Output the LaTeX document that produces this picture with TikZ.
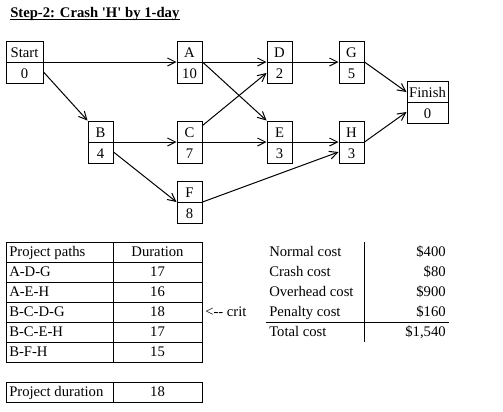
\documentclass[tikz,border=0pt]{standalone}
\usepackage{fontspec}
\setmainfont{Liberation Serif}
\usetikzlibrary{arrows.meta,calc,shapes.multipart}

% strut giving each box part its height
\newcommand{\cst}{\rule[-3pt]{0pt}{15pt}}

\tikzset{
  act/.style={draw, line width=0.75pt, rectangle split, rectangle split parts=2,
    minimum width=18.75pt, inner xsep=1pt, inner ysep=0pt},
  link/.style={line width=0.75pt, -{Straight Barb[length=6pt,width=6pt]}},
  tline/.style={line width=0.75pt},
  txt/.style={inner sep=0pt, anchor=base west},
  num/.style={inner sep=0pt, anchor=base},
  val/.style={inner sep=0pt, anchor=base east},
}

\begin{document}
\fontsize{11}{13}\selectfont
\begin{tikzpicture}[x=0.75pt, y=-0.75pt]
    \useasboundingbox (0,0) rectangle (503,411);

    % Title
    \node[txt, font=\bfseries] (title) at (10,17) {Step-2: Crash \textquotesingle H\textquotesingle\ by 1-day};
    \draw[tline] ([yshift=-1.5pt]title.base west) -- ([yshift=-1.5pt]title.base east);

    % Activities
    \node[act, minimum width=27.75pt] (start) at (24.5,62) {\cst Start \nodepart{two} \cst 0};
    \node[act] (A) at (189.5,62) {\cst A \nodepart{two} \cst 10};
    \node[act] (D) at (279.5,62) {\cst D \nodepart{two} \cst 2};
    \node[act] (G) at (351.5,62) {\cst G \nodepart{two} \cst 5};
    \node[act, minimum width=30.75pt] (finish) at (427.5,102) {\cst Finish \nodepart{two} \cst 0};
    \node[act] (B) at (100.5,142) {\cst B \nodepart{two} \cst 4};
    \node[act] (C) at (189.5,142) {\cst C \nodepart{two} \cst 7};
    \node[act] (E) at (279.5,142) {\cst E \nodepart{two} \cst 3};
    \node[act] (H) at (351.5,142) {\cst H \nodepart{two} \cst 3};
    \node[act] (F) at (189.5,202) {\cst F \nodepart{two} \cst 8};

    % Links
    \draw[link] (start.east) -- (A.west);
    \draw[link] ($(start.east)+(0,10)$) -- (B.north west);
    \draw[link] (A.east) -- (D.west);
    \draw[link] (A.east) -- (E.north west);
    \draw[link] (D.east) -- (G.west);
    \draw[link] (G.east) -- ($(finish.west)+(0,-10)$);
    \draw[link] (B.east) -- (C.west);
    \draw[link] ($(B.east)+(0,10)$) -- (F.west);
    \draw[link] ($(C.north east)+(0,5)$) -- ($(D.west)+(0,11)$);
    \draw[link] (C.east) -- (E.west);
    \draw[link] (E.east) -- (H.west);
    \draw[link] (F.east) -- ($(H.west)+(0,10)$);
    \draw[link] (H.east) -- ($(finish.west)+(0,10)$);

    % Paths table
    \draw[tline] (6,242) rectangle (202,362);
    \foreach \y in {262,282,...,342} \draw[tline] (6,\y) -- (202,\y);
    \draw[tline] (113,242) -- (113,362);
    \node[txt] (phead) at (9,256) {Project paths};
    \node[num] (dhead) at (157.5,256) {Duration};
    \foreach \p/\d [count=\i] in {A-D-G/17, A-E-H/16, B-C-D-G/18, B-C-E-H/17, B-F-H/15}
    {
        \node[txt] (path\i) at (9,256+20*\i) {\p};
        \node[num] (dur\i) at (157.5,256+20*\i) {\d};
    }
    \node[txt] (crit) at (205,316) {<-{}- crit};

    % Project duration
    \draw[tline] (6,382) rectangle (202,402);
    \draw[tline] (113,382) -- (113,402);
    \node[txt] (pdur) at (9,396) {Project duration};
    \node[num] (pdurval) at (157.5,396) {18};

    % Costs
    \draw[tline] (364.3,242) -- (364.3,342);
    \draw[tline] (266,322.3) -- (449,322.3);
    \foreach \c/\v [count=\i from 0] in {Normal cost/\$400, Crash cost/\$80, Overhead cost/\$900, Penalty cost/\$160, Total cost/{\$1,540}}
    {
        \node[txt] (cname\i) at (269,256+20*\i) {\c};
        \node[val] (cval\i) at (446,256+20*\i) {\v};
    }
\end{tikzpicture}
\end{document}
